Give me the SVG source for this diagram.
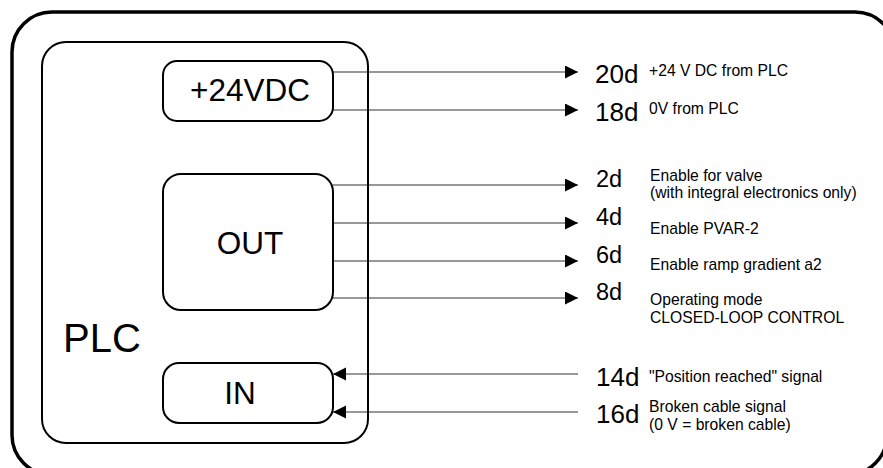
<svg xmlns="http://www.w3.org/2000/svg" width="883" height="468" viewBox="0 0 883 468">
<style>
.frame{fill:none;stroke:#000;stroke-width:3.5}
.box{fill:#fff;stroke:#000;stroke-width:2}
.plc{fill:none;stroke:#000;stroke-width:2}
.wire{fill:none;stroke:#333;stroke-width:1.2;marker-end:url(#ah)}
text{font-family:"Liberation Sans",Arial,sans-serif;fill:#000}
.big{font-size:31.5px;text-anchor:middle}
.pin{font-size:26px}
.pin2{font-size:23.5px}
.desc{font-size:15.7px}
</style>
<defs>
<marker id="ah" markerUnits="userSpaceOnUse" markerWidth="14" markerHeight="14" refX="13" refY="6.5" orient="auto">
<path d="M0,0 L13,6.5 L0,13 Z" fill="#000"/>
</marker>
</defs>
<path class="frame" d="M52,12 H855 A40,40 0 0 1 895,52 L887,435 A40,40 0 0 1 847,475 H52 A40,40 0 0 1 12,435 V52 A40,40 0 0 1 52,12 Z"/>
<g id="connectors">
<line class="wire" x1="333" y1="72" x2="578" y2="72"/>
<line class="wire" x1="333" y1="110" x2="578" y2="110"/>
<line class="wire" x1="333" y1="185" x2="578" y2="185"/>
<line class="wire" x1="333" y1="223" x2="578" y2="223"/>
<line class="wire" x1="333" y1="261" x2="578" y2="261"/>
<line class="wire" x1="333" y1="298" x2="578" y2="298"/>
<line class="wire" x1="578" y1="374" x2="333" y2="374"/>
<line class="wire" x1="578" y1="412" x2="333" y2="412"/>
</g>
<g id="plc">
<rect class="plc" x="42" y="42" width="326" height="401" rx="24"/>
<text x="63" y="352" style="font-size:40px">PLC</text>
</g>
<g id="supply">
<rect class="box" x="163" y="61" width="170" height="60" rx="14"/>
<text class="big" x="250" y="101">+24VDC</text>
</g>
<g id="out">
<rect class="box" x="163" y="174" width="170" height="136" rx="18"/>
<text class="big" x="250" y="254">OUT</text>
</g>
<g id="in">
<rect class="box" x="163" y="363" width="170" height="60" rx="16"/>
<text class="big" x="240" y="404">IN</text>
</g>
<g id="pin20d">
<text class="pin" x="595" y="83">20d</text>
<text class="desc" x="649" y="76">+24 V DC from PLC</text>
</g>
<g id="pin18d">
<text class="pin" x="595" y="121">18d</text>
<text class="desc" x="649" y="114">0V from PLC</text>
</g>
<g id="pin2d">
<text class="pin2" x="596" y="187">2d</text>
<text class="desc" x="650" y="180.5">Enable for valve</text>
<text class="desc" x="650" y="198">(with integral electronics only)</text>
</g>
<g id="pin4d">
<text class="pin2" x="596" y="225">4d</text>
<text class="desc" x="650" y="234">Enable PVAR-2</text>
</g>
<g id="pin6d">
<text class="pin2" x="596" y="263">6d</text>
<text class="desc" x="650" y="270">Enable ramp gradient a2</text>
</g>
<g id="pin8d">
<text class="pin2" x="596" y="300">8d</text>
<text class="desc" x="650" y="305">Operating mode</text>
<text class="desc" x="650" y="322.5">CLOSED-LOOP CONTROL</text>
</g>
<g id="pin14d">
<text class="pin" x="596" y="386">14d</text>
<text class="desc" x="649" y="382">"Position reached" signal</text>
</g>
<g id="pin16d">
<text class="pin" x="596" y="423">16d</text>
<text class="desc" x="649" y="412">Broken cable signal</text>
<text class="desc" x="649" y="429.5">(0 V = broken cable)</text>
</g>
</svg>
